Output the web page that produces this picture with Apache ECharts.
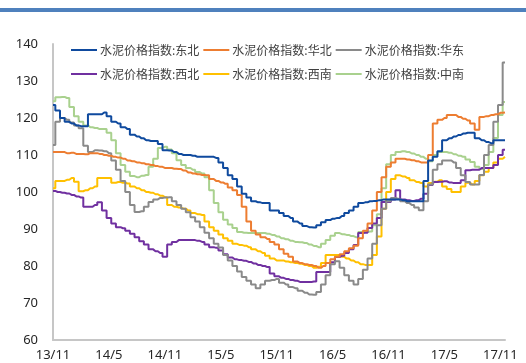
<!DOCTYPE html>
<html>
<head>
<meta charset="utf-8">
<script src="https://cdn.jsdelivr.net/npm/echarts@6/dist/echarts.min.js"></script>
<style>
  html, body { margin: 0; padding: 0; background: #fff; }
  #chart { width: 526px; height: 363px; }
</style>
</head>
<body>
<div id="chart"></div>
<script>
// Half-monthly cement price index, Nov 2013 – Nov 2017
const tickLabels = ['13/11', '14/5', '14/11', '15/5', '15/11', '16/5', '16/11', '17/5', '17/11'];

const seriesNames = [
  '水泥价格指数:东北', '水泥价格指数:华北', '水泥价格指数:华东',
  '水泥价格指数:西北', '水泥价格指数:西南', '水泥价格指数:中南'
];

const northeast = [
  123.5,122,120,119,118.5,118,117.8,117.8,121,121,
  121,121.5,120.5,119,118.5,117.5,117,115.5,115,114.5,
  114,113.8,113.8,113,111.3,111.2,110.8,110.3,110,110,
  109.8,109.5,109.5,109.5,109.5,109.2,108,106.5,104.5,103.5,
  101.5,99.5,98.5,97.5,97.2,97,97,95,95,94.3,
  93.5,93,92,91.5,90.8,90.5,90.4,91,91.8,92.4,
  92.8,93,93.5,94.3,95,96,97,97.2,97.5,97.6,
  97.8,98,98,98,98,97.8,97.5,97.5,97.5,97.5,
  103,108.5,109.5,111,114,114.5,115,115.4,115.8,116,
  116,114.5,114,113.5,113.2,114,114,114
];

const north = [
  110.8,110.8,110.8,110.5,110.6,110.3,110.3,110.2,110.5,110.5,
  110.3,110,109.8,109.5,109.3,109,108.5,108.3,108,107.8,
  107.5,107.3,107,106.8,106.5,106.5,106.3,106.2,105.8,105.3,
  105,104.8,104.6,104.5,103.5,103,102.6,102.2,101.2,100.5,
  99.2,96,92,89.5,88.5,87.8,87.3,86.5,85.8,84.5,
  83.3,82.5,81.2,80.8,80.5,80.3,80,79.5,80,80.8,
  81.8,82.5,83.2,84,84.8,85.5,87.5,89.5,91.5,95,
  100,104,106.8,108,109,109,108.8,108.6,108.3,108,
  108,110,118.5,119.5,120,120.8,120.8,120.3,119.8,119.3,
  118.5,116.8,120.3,120.5,120.8,121,121.4,121.5
];

const east = [
  112.7,119,120,119.5,118.8,118,117.2,112.5,110.8,111.3,
  111.2,111,110.5,108.5,106,103,100,96.5,94.6,94.8,
  96,97.3,98,98.4,98.5,98.6,97.5,96.5,95.5,94.5,
  93.2,92,90.5,89,87.5,86,85,83,81.5,80,
  78.5,77,76,75,74,75,76,76.2,76.5,75.5,
  75,74.3,74,73.3,72.8,72.3,72.2,73,75,77.5,
  80.5,81.3,79.5,77.5,76,75,76.5,79,82,86,
  91,95.5,97.5,98.4,98.2,97.5,97,96.5,95.8,95.1,
  97.5,102,106,107.5,108.5,108.5,108,106.5,104.5,102.7,
  102,102,104.6,110,112.7,119,123.5,135
];

const northwest = [
  100.3,100,99.8,99.6,99.2,98.8,98.5,96,96,96.5,
  97.2,95,93,91.5,90.5,90.2,89.5,88.7,87.8,86.7,
  85.8,84.5,84,83.5,82.5,85.8,86.5,87,87,87,
  87,86.8,86.5,85.8,85.1,84.9,84.2,83.2,82.3,81.8,
  81.6,81.4,81.1,80.7,80.3,80,79.7,78,77.2,76.8,
  76.5,76.2,76,75.7,75.7,75.7,75.8,78.4,78.4,78.4,
  81,82.4,82.8,83.5,84.5,85.7,88.9,89,90.3,91.5,
  93,97.3,97.3,98,100.5,98,97.8,97.6,97.8,98.2,
  99.5,101.9,102.7,102.8,102.9,102.6,102.4,102.4,103.2,105.9,
  106,106,106.5,106.5,106.5,107.3,110,111.4
];

const southwest = [
  101,103,103,103.3,103.8,102.8,100.2,100.5,101,101.5,
  103.8,103.8,103.8,102.5,102.7,102.5,102.3,101.5,101,100.5,
  100,99.8,99.4,99,98.6,96.5,96,95.8,95.5,95,
  94.3,94,93.8,92,90.5,89.5,88.5,87.5,86.8,86,
  85.7,85.5,85.1,84.5,84,83.5,82.8,82,81.5,81.5,
  81.2,81,80.8,80.6,80.3,80,79.5,79.8,80.8,83,
  83,83,82.5,82,81.5,81,80.5,80.3,80.3,83,
  88,95.5,100,103.5,104.5,104.2,103.8,103.2,102.7,102.4,
  101.5,102.4,102.8,103.2,101.5,100.8,100,100,101.5,102.5,
  102,103,104.5,105.5,106.5,108,109,109.5
];

const central = [
  124.5,125.6,125.7,125.4,123,120.5,119,118,117.5,117.3,
  117,117,116,114,110.5,107.3,105.5,104.3,104,104.4,
  104.6,106.8,109,111.9,112.2,111.5,110.5,108.6,107.3,106.5,
  106,105.4,105,104,100.5,97,94.5,92.5,91.2,90.3,
  89.2,89,88.9,88.9,88.9,88.9,88.7,88.4,88,87.5,
  87.2,86.8,86.5,86.4,86.2,85.8,85.4,85.1,86,87,
  88.2,88.9,88.6,88.4,88.1,87.8,89.2,89.2,89.3,91,
  94,101,107.5,110,110.8,111,110.8,110.4,110,109.5,
  109,108.3,110,110.8,110.8,110.6,110.2,109.8,109.5,108.8,
  108.1,106.8,106.2,107.3,110.8,114.6,120.8,124.3
];

const colors = ['#0f4a9e', '#ed7d31', '#8a8a8a', '#7030a0', '#ffc000', '#a9d18e'];
const values = [northeast, north, east, northwest, southwest, central];

// One category per half month starting Nov 2013
const categories = [];
for (let i = 0; i < northeast.length; i++) {
  const m = 10 + Math.floor(i / 2);
  const y = 2013 + Math.floor(m / 12);
  const mm = (m % 12) + 1;
  categories.push(y + '-' + (mm < 10 ? '0' : '') + mm + (i % 2 ? '-16' : '-01'));
}

const chart = echarts.init(document.getElementById('chart'), null, { renderer: 'canvas' });

const legendBase = {
  orient: 'horizontal',
  left: 71,
  padding: 0,
  icon: 'rect',
  itemWidth: 26,
  itemHeight: 2,
  itemGap: 4,
  textStyle: { fontFamily: 'Noto Sans CJK SC', fontSize: 12, color: '#404040', padding: [0, 0, 0, -2] }
};

chart.setOption({
  animation: false,
  color: colors,
  graphic: [{
    type: 'rect',
    shape: { x: 0, y: 8, width: 526, height: 4 },
    style: { fill: '#4f81bd' },
    silent: true
  }],
  legend: [
    Object.assign({}, legendBase, { top: 44, data: seriesNames.slice(0, 3) }),
    Object.assign({}, legendBase, { top: 68, data: seriesNames.slice(3) })
  ],
  grid: { left: 53, right: 21, top: 44, bottom: 23, containLabel: false },
  xAxis: {
    type: 'category',
    data: categories,
    boundaryGap: false,
    axisLine: { lineStyle: { color: '#c6c6c6', width: 2 } },
    axisTick: { show: false },
    splitLine: { show: false },
    axisLabel: {
      interval: (idx) => idx % 12 === 0,
      formatter: (val, idx) => tickLabels[idx / 12] || '',
      margin: 9,
      color: '#262626',
      fontSize: 13,
      fontFamily: 'Noto Sans'
    }
  },
  yAxis: {
    type: 'value',
    min: 60,
    max: 140,
    interval: 10,
    axisLine: { show: true, lineStyle: { color: '#c6c6c6', width: 2 } },
    axisTick: { show: false },
    splitLine: { show: false },
    axisLabel: { margin: 15, color: '#262626', fontSize: 13, fontFamily: 'Noto Sans' }
  },
  series: seriesNames.map((name, i) => ({
    name: name,
    type: 'line',
    data: values[i],
    step: 'middle',
    showSymbol: false,
    symbol: 'none',
    lineStyle: { width: 2, color: colors[i] },
    itemStyle: { color: colors[i] },
    z: 10 - i
  }))
});
</script>
</body>
</html>
